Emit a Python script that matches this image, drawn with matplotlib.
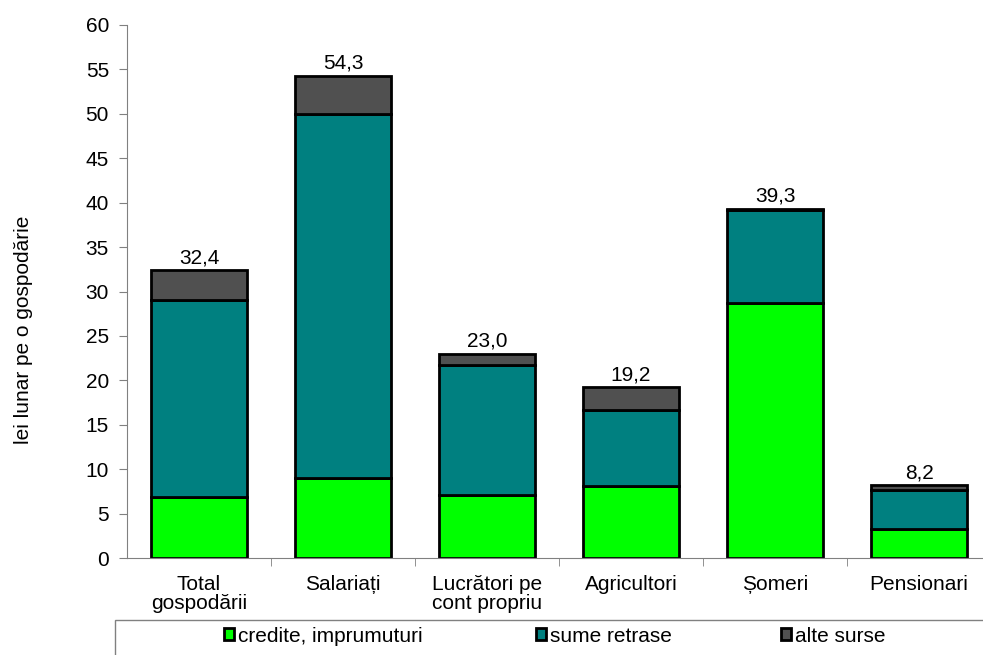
import numpy as np
import matplotlib.pyplot as plt
from matplotlib.patches import Rectangle

plt.rcParams['font.family'] = ['Liberation Sans', 'DejaVu Sans']

# Data
categories = ['Total\ngospodării', 'Salariați', 'Lucrători pe\ncont propriu',
              'Agricultori', 'Șomeri', 'Pensionari']
credite = [6.9, 9.0, 7.1, 8.1, 28.7, 3.3]
sume = [22.1, 41.0, 14.6, 8.6, 10.5, 4.4]
alte = [3.4, 4.3, 1.3, 2.5, 0.1, 0.5]
totals = ['32,4', '54,3', '23,0', '19,2', '39,3', '8,2']

fig = plt.figure(figsize=(9.83, 6.55), dpi=100)
ax = fig.add_axes([127/983, 1-558/655, 864/983, 533/655])

x = np.arange(len(categories))
w = 0.67
b1 = np.array(credite)
b2 = b1 + np.array(sume)
b3 = b2 + np.array(alte)
ax.bar(x, credite, w, color='#00ff00', edgecolor='black', linewidth=2, label='credite, imprumuturi')
ax.bar(x, sume, w, bottom=b1, color='#008080', edgecolor='black', linewidth=2, label='sume retrase')
ax.bar(x, alte, w, bottom=b2, color='#505050', edgecolor='black', linewidth=2, label='alte surse')

for xi, top, t in zip(x, b3, totals):
    ax.annotate(t, (xi, top), xytext=(0, 5), textcoords='offset points',
                ha='center', va='baseline', fontsize=15)

ax.set_xlim(-0.5, 5.5)
ax.set_ylim(0, 60)
ax.set_yticks(np.arange(0, 61, 5))
ax.set_xticks(x)
ax.set_xticklabels(categories, fontsize=15, linespacing=1.0)
ax.set_xticks(np.arange(0.5, 5.5, 1), minor=True)
ax.tick_params(axis='x', which='major', length=0, pad=12)
ax.tick_params(axis='x', which='minor', length=6, color='#808080', direction='out')
ax.tick_params(axis='y', labelsize=15, length=6, color='#808080', direction='out', pad=7)
for s in ['top', 'right']:
    ax.spines[s].set_visible(False)
ax.spines['left'].set_color('#808080')
ax.spines['bottom'].set_color('#808080')
fig.text(24/983, 1-330/655, 'lei lunar pe o gospodărie', rotation=90,
         ha='center', va='center', fontsize=15)

# legend box
fig.patches.append(Rectangle((115/983, -0.01), 1, (655-620)/655 + 0.01,
                             transform=fig.transFigure, fill=False,
                             edgecolor='#808080', linewidth=1))
h, l = ax.get_legend_handles_labels()
for hi, li, xs in zip(h, l, [224, 536, 781]):
    fig.legend([hi], [li], loc='center left', bbox_to_anchor=(xs/983, 1-636/655),
               frameon=False, fontsize=15, handlelength=0.5, handleheight=0.5,
               handletextpad=0.15, borderpad=0, borderaxespad=0)

fig.savefig('out.png', dpi=100)
